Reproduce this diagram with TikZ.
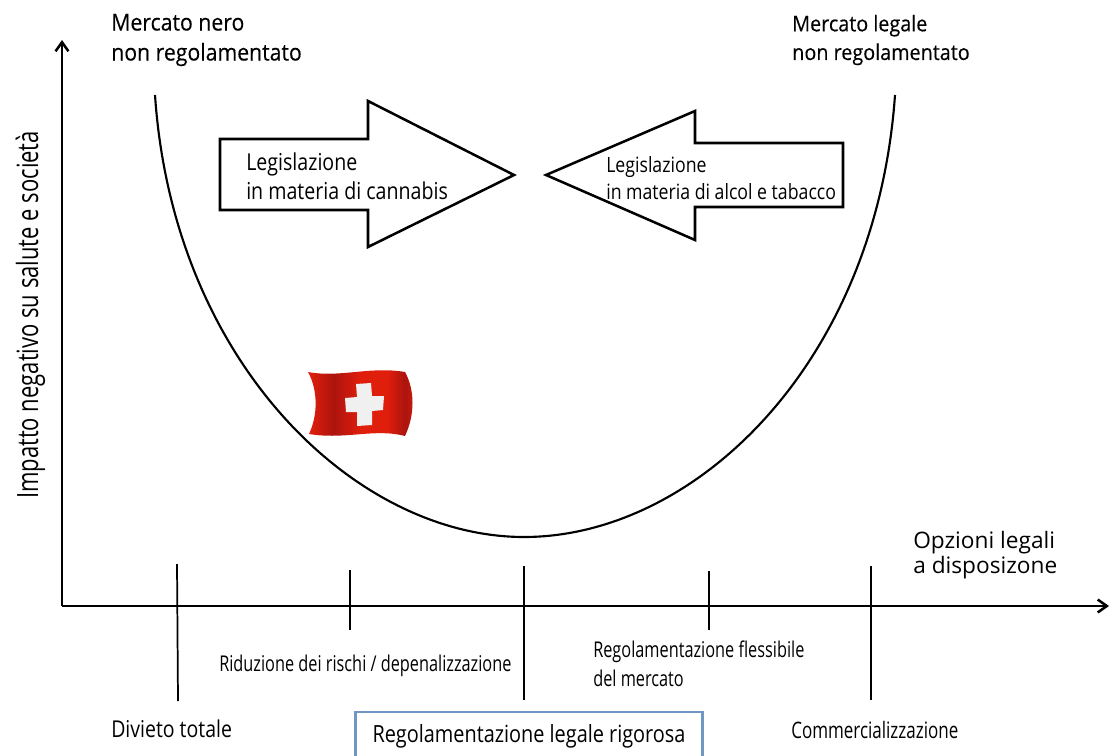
\documentclass[tikz,border=0pt]{standalone}
\usepackage{fontspec}
\setmainfont[FakeStretch=0.84]{Open Sans}
\newfontfamily\widefont{Open Sans}
\newfontfamily\narrowfont[FakeStretch=0.75]{Open Sans}
\newfontfamily\topfont[FakeStretch=0.91,FakeBold=0.25]{Open Sans}
\usetikzlibrary{arrows.meta,positioning}
\definecolor{boxblue}{RGB}{112, 150, 198}
\definecolor{flagred}{RGB}{224, 30, 12}
\definecolor{flagdark}{RGB}{172, 20, 14}
\pgfdeclarehorizontalshading{flagfolds}{100bp}{
  color(0bp)=(flagred); color(10bp)=(flagred); color(20bp)=(flagdark); color(27bp)=(flagred);
  color(38bp)=(flagdark); color(50bp)=(flagred); color(62bp)=(flagred); color(70bp)=(flagdark);
  color(78bp)=(flagred); color(86bp)=(flagdark); color(94bp)=(flagred); color(100bp)=(flagdark)}
\tikzset{
  axisline/.style={line width=1.9pt, -{Straight Barb[length=2.4mm,width=3.4mm]}},
  tickline/.style={line width=1.3pt},
  bigarrow/.style={line width=1.9pt, draw=black, fill=white, line join=miter},
  lbl/.style={inner sep=0pt, align=left, font=\narrowfont\fontsize{16.3}{22}\selectfont},
  toplbl/.style={inner sep=0pt, align=left, anchor=west},
}
\begin{document}
\begin{tikzpicture}[x=0.75pt, y=-0.75pt]
    \useasboundingbox (0,0) rectangle (1110,756);

    % curve
    \draw[line width=1.6pt] (155,95) .. controls (173,362) and (355,537) .. (524,537) .. controls (695,537) and (876,364) .. (895,95);

    % axes
    \coordinate (origin) at (62,606);
    \coordinate (ytop) at (62,40);
    \coordinate (xend) at (1109,606);
    \draw[axisline] (origin) -- (ytop);
    \draw[axisline] (origin) -- (xend);

    % ticks
    \coordinate (t1a) at (177,564); \coordinate (t1b) at (178,701);
    \coordinate (t2a) at (350,570); \coordinate (t2b) at (350,630);
    \coordinate (t3a) at (524,566); \coordinate (t3b) at (524,700);
    \coordinate (t4a) at (709,571); \coordinate (t4b) at (709,630);
    \coordinate (t5a) at (871,566); \coordinate (t5b) at (871,700);
    \draw[tickline] (t1a) -- (t1b);
    \draw[tickline, line width=1.6pt] (t2a) -- (t2b);
    \draw[tickline] (t3a) -- (t3b);
    \draw[tickline] (t4a) -- (t4b);
    \draw[tickline] (t5a) -- (t5b);

    % big arrows
    \draw[bigarrow] (220,139) -- (368,139) -- (368,101) -- (514,175) -- (368,247) -- (368,210) -- (220,210) -- cycle;
    \draw[bigarrow] (843,143) -- (695,143) -- (695,111) -- (546,175) -- (695,240) -- (695,207) -- (843,207) -- cycle;
    \node[lbl, anchor=west, font=\fontsize{17.5}{22}\selectfont] (cannabis) at (246,176) {Legislazione\\in materia di cannabis};
    \node[lbl, anchor=west, font=\fontsize{15.8}{20.5}\selectfont] (alcol) at (606,178) {Legislazione\\in materia di alcol e tabacco};

    % flag
    \begin{scope}
      \clip (308,372) .. controls (340,378) and (370,366) .. (405,372) .. controls (415,390) and (415,415) .. (405,436) .. controls (375,428) and (345,440) .. (309,434) .. controls (318,415) and (318,390) .. (308,372) -- cycle;
      \shade[shading=flagfolds] (305,368) rectangle (416,440);
    \end{scope}
    \fill[white!94!black] (345,398) -- (357,397) -- (356,384) -- (371,383) -- (372,396) -- (384,396) -- (383,410) -- (372,411) -- (372,425) -- (357,426) -- (357,412) -- (346,412) -- cycle;

    % labels
    \node[toplbl, font=\topfont\fontsize{17.5}{22.5}\selectfont] (blackmkt) at (111,40) {Mercato nero\\non regolamentato};
    \node[toplbl, font=\topfont\fontsize{16.3}{21.5}\selectfont] (legalmkt) at (792,40) {Mercato legale\\non regolamentato};
    \node[inner sep=0pt, rotate=90, anchor=base, font=\narrowfont\fontsize{22}{24}\selectfont] (ylabel) at (38,315) {Impatto negativo su salute e società};
    \node[inner sep=0pt, align=left, anchor=west, font=\widefont\fontsize{17}{19}\selectfont] (options) at (913,555) {Opzioni legali\\a disposizone};

    \node[lbl, anchor=west, font=\fontsize{17.4}{22}\selectfont] (divieto) at (111,729) {Divieto totale};
    \node[lbl, anchor=west] (riduzione) at (219,666) {Riduzione dei rischi / depenalizzazione};
    \node[lbl, anchor=west] (flessibile) at (593,664) {Regolamentazione flessibile\\del mercato};
    \node[lbl, anchor=west, font=\narrowfont\fontsize{17}{22}\selectfont] (commerciale) at (791,730) {Commercializzazione};
    \node[draw=boxblue, line width=2.2pt, minimum width=260pt, minimum height=36pt, inner sep=0pt, font=\fontsize{17.75}{20}\selectfont] (rigorosa) at (529,736) {Regolamentazione legale rigorosa};
\end{tikzpicture}
\end{document}
